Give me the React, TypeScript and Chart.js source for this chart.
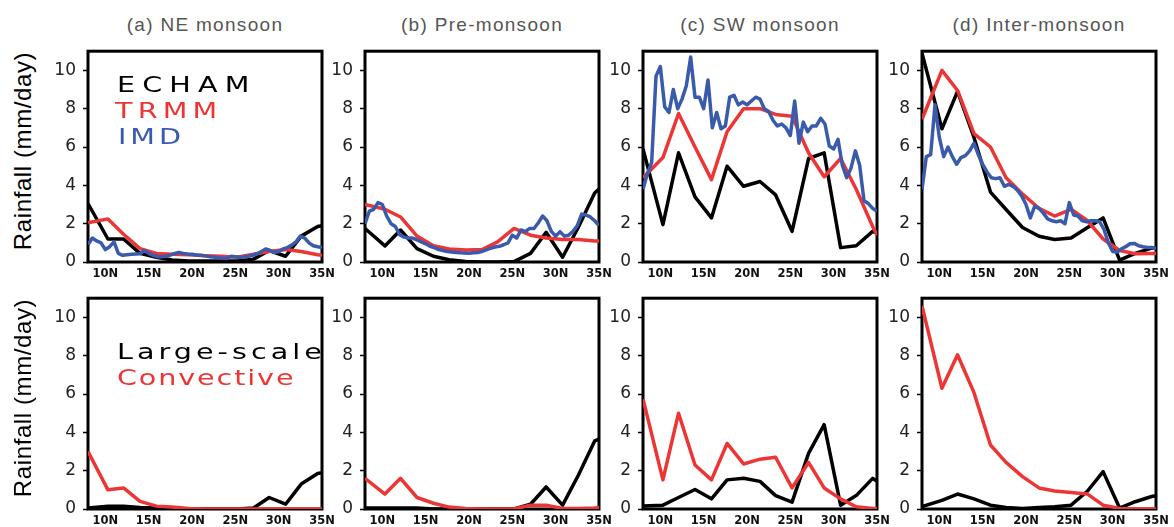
import React, { useEffect, useRef } from "react";
import { Chart, registerables } from "chart.js";
Chart.register(...registerables);

// ---------------- data ----------------
const MODEL_LAT = [8.0, 10.3, 12.1, 14.0, 15.9, 17.7, 19.6, 21.5, 23.3, 25.2, 27.1, 28.9, 30.8, 32.6, 34.5, 35.0];
const IMD_LAT = [
  8.0, 8.5, 9.0, 9.5, 10.0, 10.5, 11.0, 11.5, 12.0, 12.5, 13.0, 13.5, 14.0, 14.5, 15.0, 15.5, 16.0, 16.5, 17.0, 17.5,
  18.0, 18.5, 19.0, 19.5, 20.0, 20.5, 21.0, 21.5, 22.0, 22.5, 23.0, 23.5, 24.0, 24.5, 25.0, 25.5, 26.0, 26.5, 27.0, 27.5,
  28.0, 28.5, 29.0, 29.5, 30.0, 30.5, 31.0, 31.5, 32.0, 32.5, 33.0, 33.5, 34.0, 34.5, 35.0,
];

const ECHAM_NE = [3.05, 1.2, 1.2, 0.45, 0.25, 0.1, 0.05, 0.05, 0.05, 0.05, 0.15, 0.6, 0.3, 1.35, 1.85, 1.9];
const ECHAM_PRE = [1.75, 0.84, 1.67, 0.7, 0.3, 0.12, 0.03, 0, 0, 0.02, 0.45, 1.55, 0.25, 1.8, 3.6, 3.8];
const ECHAM_SW = [5.9, 1.95, 5.7, 3.4, 2.3, 5.0, 3.95, 4.2, 3.5, 1.6, 5.4, 5.7, 0.75, 0.85, 1.6, 1.5];
const ECHAM_INTER = [10.9, 6.95, 8.9, 6.5, 3.65, 2.74, 1.8, 1.34, 1.17, 1.25, 1.8, 2.3, 0.1, 0.45, 0.72, 0.76];

const TRMM_NE = [2.05, 2.25, 1.45, 0.7, 0.45, 0.4, 0.38, 0.33, 0.3, 0.25, 0.4, 0.55, 0.65, 0.55, 0.38, 0.35];
const TRMM_PRE = [3.0, 2.75, 2.35, 1.35, 0.85, 0.68, 0.62, 0.65, 1.05, 1.75, 1.4, 1.25, 1.17, 1.17, 1.1, 1.1];
const TRMM_SW = [4.4, 5.45, 7.75, 6.0, 4.3, 6.8, 8.0, 8.0, 7.7, 7.6, 5.7, 4.45, 5.4, 3.8, 1.85, 1.4];
const TRMM_INTER = [7.45, 10.0, 8.95, 6.7, 6.0, 4.4, 3.55, 2.8, 2.4, 2.75, 2.15, 1.2, 0.6, 0.43, 0.45, 0.45];

const IMD_NE = [
  0.9, 1.25, 1.1, 1.0, 0.65, 0.8, 1.05, 0.45, 0.35, 0.38, 0.4, 0.42, 0.43, 0.6, 0.45, 0.35, 0.28, 0.27, 0.3, 0.36,
  0.45, 0.5, 0.45, 0.42, 0.4, 0.37, 0.35, 0.32, 0.28, 0.26, 0.22, 0.2, 0.18, 0.3, 0.28, 0.25, 0.26, 0.3, 0.35, 0.43,
  0.55, 0.68, 0.6, 0.5, 0.55, 0.68, 0.75, 0.88, 1.05, 1.35, 1.25, 1.0, 0.85, 0.8, 0.76,
];
const IMD_PRE = [
  2.0, 2.65, 2.75, 3.1, 3.0, 2.4, 2.0, 1.85, 1.42, 1.3, 1.25, 1.25, 1.15, 1.05, 0.95, 0.82, 0.75, 0.65, 0.6, 0.55,
  0.52, 0.5, 0.48, 0.47, 0.46, 0.48, 0.5, 0.55, 0.63, 0.72, 0.78, 0.82, 0.9, 1.0, 1.4, 1.25, 1.67, 1.58, 1.75, 1.75,
  2.05, 2.4, 2.15, 1.6, 1.35, 1.58, 1.35, 1.4, 1.6, 1.9, 2.5, 2.45, 2.35, 2.15, 1.9,
];
const IMD_SW = [
  3.8, 4.6, 5.2, 9.7, 10.2, 8.1, 7.8, 9.0, 8.0, 8.5, 9.2, 10.7, 8.6, 8.6, 8.0, 9.5, 7.0, 7.8, 6.95, 7.1,
  8.6, 8.7, 8.2, 8.35, 8.2, 8.4, 8.6, 8.5, 8.0, 7.85, 7.4, 7.1, 7.2, 7.0, 6.6, 8.4, 6.2, 7.3, 6.8, 7.1,
  7.1, 7.5, 7.2, 6.05, 5.9, 6.4, 5.05, 4.4, 4.9, 5.8, 5.05, 3.2, 3.05, 2.8, 2.65,
];
const IMD_INTER = [
  3.8, 5.5, 5.6, 8.2, 6.5, 5.5, 6.0, 5.5, 5.1, 5.45, 5.55, 5.8, 6.2, 5.6, 5.1, 4.7, 4.4, 4.35, 4.4, 3.95,
  4.05, 3.95, 3.75, 3.45, 3.0, 2.3, 2.9, 2.8, 2.55, 2.25, 2.15, 2.1, 2.15, 2.0, 3.1, 2.45, 2.4, 2.15, 2.1, 2.15,
  2.15, 2.1, 1.7, 1.0, 0.55, 0.52, 0.68, 0.8, 0.95, 0.97, 0.85, 0.8, 0.76, 0.76, 0.72,
];

const LS_NE = [0.05, 0.15, 0.15, 0.08, 0.05, 0, 0, 0, 0, 0, 0.05, 0.6, 0.25, 1.3, 1.85, 1.9];
const LS_PRE = [0.05, 0.05, 0.05, 0.05, 0, 0, 0, 0, 0, 0, 0.25, 1.15, 0.2, 1.75, 3.55, 3.65];
const LS_SW = [0.15, 0.2, 0.6, 1.02, 0.53, 1.52, 1.6, 1.44, 0.7, 0.36, 2.9, 4.4, 0.2, 0.7, 1.6, 1.45];
const LS_INTER = [0.12, 0.45, 0.78, 0.53, 0.2, 0.08, 0.03, 0.08, 0.12, 0.2, 0.94, 1.95, 0.05, 0.38, 0.65, 0.7];

const CONV_NE = [3.0, 1.0, 1.1, 0.4, 0.15, 0.1, 0.03, 0, 0, 0, 0, 0, 0, 0, 0, 0];
const CONV_PRE = [1.6, 0.78, 1.6, 0.6, 0.3, 0.1, 0.02, 0, 0, 0, 0.2, 0.2, 0.03, 0.03, 0.05, 0.08];
const CONV_SW = [5.74, 1.52, 5.0, 2.3, 1.52, 3.42, 2.35, 2.6, 2.7, 1.1, 2.43, 1.1, 0.53, 0.12, 0.03, 0.03];
const CONV_INTER = [10.6, 6.3, 8.05, 6.07, 3.34, 2.43, 1.69, 1.1, 0.94, 0.86, 0.78, 0.2, 0.03, 0, 0, 0];

const TITLES = ["(a) NE monsoon", "(b) Pre-monsoon", "(c) SW monsoon", "(d) Inter-monsoon"];
const X_TICKS = [10, 15, 20, 25, 30, 35];
const Y_TICKS = [0, 2, 4, 6, 8, 10];
const Y_TITLE = "Rainfall (mm/day)";

// ---------------- styling ----------------
const BLACK = "#000000";
const RED = "#ee3535";
const BLUE = "#3a5aab";

const PLOT_W = 234;
const PLOT_H = 222;
const PANEL_LEFTS = [88, 365, 643, 922];
const ROW_TOPS = [40, 287];
const PADL = 50;
const PADT = 6;
const PADR = 20;
const PADB = 24;

type Series = { lat: number[]; values: number[]; color: string };

const boxPlugin = {
  id: "box",
  beforeDatasetsDraw(chart: any) {
    const { ctx, chartArea } = chart;
    ctx.save();
    ctx.strokeStyle = "#000";
    ctx.lineWidth = 3;
    ctx.strokeRect(chartArea.left, chartArea.top, chartArea.right - chartArea.left, chartArea.bottom - chartArea.top);
    ctx.restore();
  },
};

function PanelChart({ left, top, series }: { left: number; top: number; series: Series[] }) {
  const ref = useRef<HTMLCanvasElement>(null);
  const w = PADL + PLOT_W + PADR;
  const h = PADT + PLOT_H + PADB;
  useEffect(() => {
    const chart = new Chart(ref.current as HTMLCanvasElement, {
      type: "line",
      data: {
        datasets: series.map((s) => ({
          data: s.lat.map((x, i) => ({ x, y: s.values[i] })),
          borderColor: s.color,
          backgroundColor: s.color,
          borderWidth: 3.5,
          pointRadius: 0,
          tension: 0,
          fill: false,
          borderJoinStyle: "round" as const,
        })),
      },
      options: {
        animation: false,
        responsive: false,
        maintainAspectRatio: false,
        layout: { padding: { left: 0, top: PADT, right: PADR, bottom: 0 } },
        plugins: { legend: { display: false }, tooltip: { enabled: false }, title: { display: false } },
        scales: {
          x: {
            type: "linear",
            min: 8,
            max: 35,
            afterFit: (s: any) => {
              s.height = PADB;
            },
            afterBuildTicks: (s: any) => {
              s.ticks = X_TICKS.map((v) => ({ value: v }));
            },
            grid: { display: false, drawTicks: false },
            border: { display: false },
            ticks: {
              autoSkip: false,
              maxRotation: 0,
              padding: 5,
              color: "#111",
              font: { family: "DejaVu Sans", size: 11.5, weight: "bold" },
              callback: (v: any) => `${v}N`,
            },
          },
          y: {
            type: "linear",
            min: 0,
            max: 11,
            afterFit: (s: any) => {
              s.width = PADL;
            },
            afterBuildTicks: (s: any) => {
              s.ticks = Y_TICKS.map((v) => ({ value: v }));
            },
            grid: { display: true, drawOnChartArea: false, drawTicks: true, tickLength: 5, tickWidth: 1.5, tickColor: "#000" },
            border: { display: false },
            ticks: {
              padding: 7,
              color: "#222",
              font: { family: "DejaVu Sans", size: 17 },
              callback: (v: any) => String(v),
            },
          },
        },
      },
      plugins: [boxPlugin],
    });
    return () => chart.destroy();
  }, []);
  return (
    <canvas
      ref={ref}
      width={w}
      height={h}
      style={{ position: "absolute", left: left - PADL, top: top - PADT, width: w, height: h }}
    />
  );
}

const TOP_SERIES: Series[][] = [
  [
    { lat: IMD_LAT, values: IMD_NE, color: BLUE },
    { lat: MODEL_LAT, values: TRMM_NE, color: RED },
    { lat: MODEL_LAT, values: ECHAM_NE, color: BLACK },
  ],
  [
    { lat: IMD_LAT, values: IMD_PRE, color: BLUE },
    { lat: MODEL_LAT, values: TRMM_PRE, color: RED },
    { lat: MODEL_LAT, values: ECHAM_PRE, color: BLACK },
  ],
  [
    { lat: IMD_LAT, values: IMD_SW, color: BLUE },
    { lat: MODEL_LAT, values: TRMM_SW, color: RED },
    { lat: MODEL_LAT, values: ECHAM_SW, color: BLACK },
  ],
  [
    { lat: IMD_LAT, values: IMD_INTER, color: BLUE },
    { lat: MODEL_LAT, values: TRMM_INTER, color: RED },
    { lat: MODEL_LAT, values: ECHAM_INTER, color: BLACK },
  ],
];

const BOTTOM_SERIES: Series[][] = [
  [
    { lat: MODEL_LAT, values: CONV_NE, color: RED },
    { lat: MODEL_LAT, values: LS_NE, color: BLACK },
  ],
  [
    { lat: MODEL_LAT, values: CONV_PRE, color: RED },
    { lat: MODEL_LAT, values: LS_PRE, color: BLACK },
  ],
  [
    { lat: MODEL_LAT, values: CONV_SW, color: RED },
    { lat: MODEL_LAT, values: LS_SW, color: BLACK },
  ],
  [
    { lat: MODEL_LAT, values: CONV_INTER, color: RED },
    { lat: MODEL_LAT, values: LS_INTER, color: BLACK },
  ],
];

function LegendText({ text, color, left, top, spacing }: { text: string; color: string; left: number; top: number; spacing: number }) {
  return (
    <div
      style={{
        position: "absolute",
        left,
        top,
        fontFamily: "DejaVu Sans, sans-serif",
        fontSize: 22,
        lineHeight: "22px",
        letterSpacing: spacing,
        color,
        whiteSpace: "nowrap",
        transform: "scaleX(1.3)",
        transformOrigin: "left top",
      }}
    >
      {text}
    </div>
  );
}

function YTitle({ cy }: { cy: number }) {
  const W = 280;
  const H = 30;
  return (
    <div
      style={{
        position: "absolute",
        left: 23 - W / 2,
        top: cy - H / 2,
        width: W,
        height: H,
        lineHeight: `${H}px`,
        textAlign: "center",
        fontFamily: "Liberation Sans, Arial, sans-serif",
        fontSize: 24,
        letterSpacing: 0.6,
        color: "#000",
        transform: "rotate(-90deg)",
        whiteSpace: "nowrap",
      }}
    >
      {Y_TITLE}
    </div>
  );
}

export default function App() {
  return (
    <div style={{ position: "absolute", left: 0, top: 0, width: 1174, height: 527, background: "#fff", overflow: "hidden" }}>
      {TITLES.map((t, i) => (
        <div
          key={t}
          style={{
            position: "absolute",
            left: PANEL_LEFTS[i] - 40,
            width: PLOT_W + 80,
            top: 14.5,
            textAlign: "center",
            fontFamily: "Liberation Sans, Arial, sans-serif",
            fontSize: 19,
            lineHeight: "19px",
            letterSpacing: 1.3,
            color: "#555",
            whiteSpace: "nowrap",
          }}
        >
          {t}
        </div>
      ))}
      {PANEL_LEFTS.map((l, i) => (
        <PanelChart key={"t" + i} left={l} top={ROW_TOPS[0]} series={TOP_SERIES[i]} />
      ))}
      {PANEL_LEFTS.map((l, i) => (
        <PanelChart key={"b" + i} left={l} top={ROW_TOPS[1]} series={BOTTOM_SERIES[i]} />
      ))}
      <YTitle cy={ROW_TOPS[0] + PLOT_H / 2} />
      <YTitle cy={ROW_TOPS[1] + PLOT_H / 2} />
      <LegendText text="ECHAM" color={BLACK} left={117} top={74} spacing={5.5} />
      <LegendText text="TRMM" color={RED} left={115} top={99.5} spacing={4} />
      <LegendText text="IMD" color={BLUE} left={118} top={125.5} spacing={3} />
      <LegendText text="Large-scale" color={BLACK} left={117} top={340.5} spacing={3.1} />
      <LegendText text="Convective" color={RED} left={117} top={367} spacing={1.45} />
    </div>
  );
}
